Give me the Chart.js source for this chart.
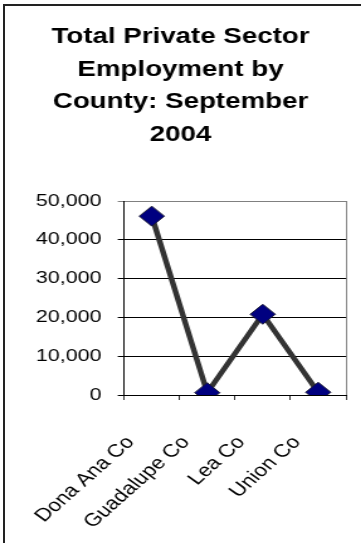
<!DOCTYPE html>
<html>
<head>
<meta charset="utf-8">
<script src="https://cdn.jsdelivr.net/npm/chart.js@4/dist/chart.umd.min.js"></script>
<style>
  html, body { margin: 0; padding: 0; background: #fff; overflow: hidden; }
  body { width: 361px; height: 543px; position: relative; }
  #frame {
    position: absolute; left: 3px; top: 4px; width: 400px; height: 600px;
    border-left: 2px solid #222; border-top: 2px solid #222;
  }
  /* chart is laid out narrow and widened horizontally, as in the original export */
  #wrap {
    position: absolute; left: 0; top: 0; width: 287px; height: 543px;
    transform: scaleX(1.258); transform-origin: 0 0;
  }
</style>
</head>
<body>
<div id="frame"></div>
<div id="wrap"><canvas id="chart" width="287" height="543"></canvas></div>
<script>
const counties = ['Dona Ana Co', 'Guadalupe Co', 'Lea Co', 'Union Co'];
const employment = [46100, 600, 20800, 700];
const yTicks = [0, 10000, 20000, 30000, 40000, 50000];
const titleLines = ['Total Private Sector', 'Employment by', 'County: September', '2004'];

const FONT = '"Liberation Sans", Arial, Helvetica, sans-serif';

// gray plot-area outline on the right side
const plotOutline = {
  id: 'plotOutline',
  beforeDatasetsDraw(chart) {
    const { ctx, chartArea } = chart;
    ctx.save();
    ctx.strokeStyle = '#808080';
    ctx.lineWidth = 1;
    ctx.beginPath();
    ctx.moveTo(chartArea.right + 0.5, chartArea.top);
    ctx.lineTo(chartArea.right + 0.5, chartArea.bottom);
    ctx.stroke();
    ctx.restore();
  }
};

new Chart(document.getElementById('chart'), {
  type: 'line',
  data: {
    labels: counties,
    datasets: [{
      data: employment,
      borderColor: '#333333',
      borderWidth: 4.5,
      tension: 0,
      pointStyle: 'rectRot',
      pointRadius: 10,
      pointBackgroundColor: '#000080',
      pointBorderColor: '#1a1a33',
      pointBorderWidth: 1
    }]
  },
  options: {
    responsive: false,
    animation: false,
    devicePixelRatio: 1,
    layout: { padding: { left: 12, right: 12, top: 0, bottom: 0 } },
    plugins: {
      legend: { display: false },
      tooltip: { enabled: false },
      title: {
        display: true,
        text: titleLines,
        color: '#000',
        font: { family: FONT, size: 22, weight: 'bold', lineHeight: 32.5 / 22 },
        padding: { top: 21, bottom: 50 }
      }
    },
    scales: {
      x: {
        offset: true,
        afterFit(scale) {
          scale.height = 148;
          scale.paddingLeft = 0;
          scale.paddingRight = 0;
        },
        grid: { display: true, drawOnChartArea: false, drawTicks: true, tickLength: 5, color: '#333', offset: true },
        border: { display: true, color: '#000', width: 1 },
        ticks: {
          color: '#000',
          font: { family: FONT, size: 18 },
          minRotation: 48,
          maxRotation: 48,
          labelOffset: -17,
          padding: 32,
          autoSkip: false
        }
      },
      y: {
        min: 0,
        max: 50000,
        afterBuildTicks(scale) { scale.ticks = yTicks.map(v => ({ value: v })); },
        afterFit(scale) { scale.width = 86.6; },
        grid: {
          color: ctx => (ctx.tick && ctx.tick.value === 50000 ? '#808080' : '#000'),
          tickLength: 5,
          lineWidth: 1
        },
        border: { display: true, color: '#000', width: 1 },
        ticks: {
          color: '#000',
          font: { family: FONT, size: 17 },
          padding: 13,
          callback: v => v.toLocaleString('en-US')
        }
      }
    }
  },
  plugins: [plotOutline]
});
</script>
</body>
</html>
